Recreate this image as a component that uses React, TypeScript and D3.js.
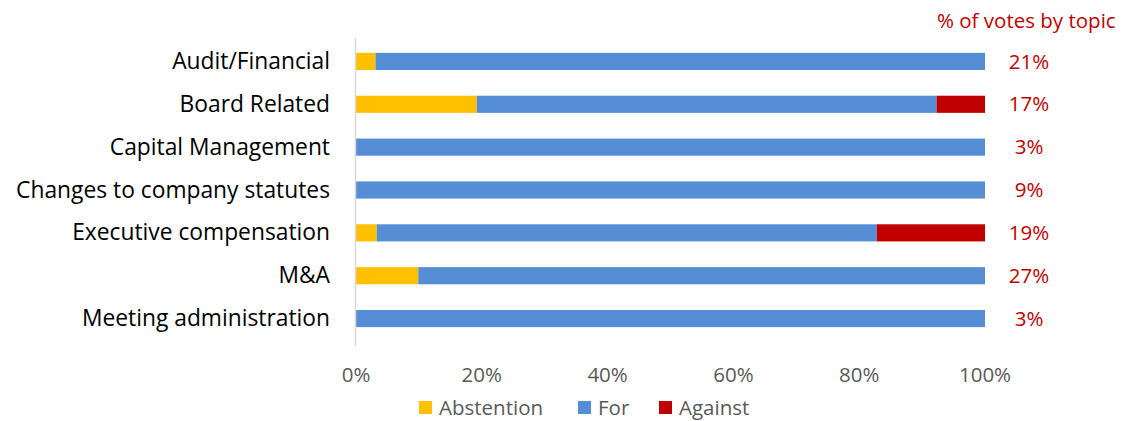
import * as d3 from "d3";

const categories = [
  "Audit/Financial",
  "Board Related",
  "Capital Management",
  "Changes to company statutes",
  "Executive compensation",
  "M&A",
  "Meeting administration",
];
const abstention = [0.031, 0.192, 0, 0, 0.033, 0.099, 0];
const against = [0, 0.077, 0, 0, 0.172, 0, 0];
const votesShare = ["21%", "17%", "3%", "9%", "19%", "27%", "3%"];
const xTicks = [0, 0.2, 0.4, 0.6, 0.8, 1];

const seriesNames = ["Abstention", "For", "Against"];
const COLORS = ["#FFC000", "#558ED5", "#C00000"];
const FONT = "'Open Sans', sans-serif";

const W = 1125;
const H = 421;
const M = { left: 356, right: 140, top: 40, bottom: 81 };

export default function App() {
  const rows = categories.map((c, i) => {
    const ab = abstention[i];
    const ag = against[i];
    const fo = 1 - ab - ag;
    return { c, segs: [ab, fo, ag] };
  });

  const x = d3.scaleLinear().domain([0, 1]).range([M.left, W - M.right]);
  const y = d3
    .scaleBand<string>()
    .domain(categories)
    .range([M.top, H - M.bottom])
    .paddingInner(0.6)
    .paddingOuter(0.3);

  const stack = d3.stack<number[]>().keys(["0", "1", "2"]).value((d, k) => d[+k]);
  const stacked = stack(rows.map((r) => r.segs));

  const legendX = [419, 578, 659];

  return (
    <svg
      width={W}
      height={H}
      style={{ position: "absolute", left: 0, top: 0, background: "#fff" }}
      fontFamily={FONT}
    >
      {stacked.map((layer, si) => (
        <g key={si} fill={COLORS[si]}>
          {layer.map((d, i) =>
            d[1] - d[0] > 0 ? (
              <rect
                key={i}
                x={x(d[0])}
                width={x(d[1]) - x(d[0])}
                y={y(categories[i])}
                height={y.bandwidth()}
              />
            ) : null,
          )}
        </g>
      ))}

      <line
        x1={M.left - 0.5}
        x2={M.left - 0.5}
        y1={M.top - 2}
        y2={H - M.bottom + 6}
        stroke="#d9d9d9"
        strokeWidth={1.5}
      />

      {categories.map((c) => (
        <text
          key={c}
          x={M.left - 26}
          y={y(c)! + y.bandwidth() / 2}
          dy="0.33em"
          textAnchor="end"
          fontSize={22.8}
          fill="#000"
        >
          {c}
        </text>
      ))}

      {categories.map((c, i) => (
        <text
          key={c}
          x={1029}
          y={y(c)! + y.bandwidth() / 2}
          dy="0.35em"
          textAnchor="middle"
          fontSize={20.5}
          fill="#C00000"
        >
          {votesShare[i]}
        </text>
      ))}

      <text x={937} y={21} dy="0.35em" fontSize={20.5} fill="#C00000">
        % of votes by topic
      </text>

      {xTicks.map((t) => (
        <text
          key={t}
          x={x(t)}
          y={375}
          dy="0.35em"
          textAnchor="middle"
          fontSize={20.5}
          fill="#595959"
        >
          {d3.format(".0%")(t)}
        </text>
      ))}

      {seriesNames.map((s, i) => (
        <g key={s}>
          <rect x={legendX[i]} y={401} width={13} height={13} fill={COLORS[i]} />
          <text x={legendX[i] + 20} y={408} dy="0.35em" fontSize={20.5} fill="#595959">
            {s}
          </text>
        </g>
      ))}
    </svg>
  );
}
